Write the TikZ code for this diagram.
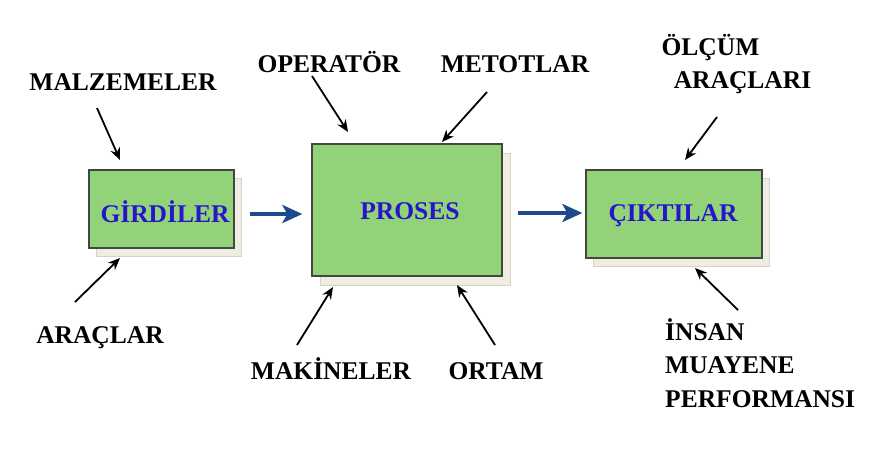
\documentclass[tikz,border=0pt]{standalone}
\usepackage{fontspec}
\setmainfont{Liberation Serif}
\usetikzlibrary{arrows.meta}
\definecolor{boxgreen}{RGB}{146,210,120}
\definecolor{boxedge}{RGB}{64,72,64}
\definecolor{shadowfill}{RGB}{239,236,226}
\definecolor{shadowedge}{RGB}{214,211,198}
\definecolor{boxtext}{RGB}{40,20,205}
\definecolor{flowblue}{RGB}{28,74,138}
\tikzset{
  lbl/.style={inner sep=0pt, font=\fontsize{25.5}{30}\selectfont\bfseries, text=black},
  stagebox/.style={draw=boxedge, line width=1.3pt, fill=boxgreen, inner sep=0pt,
    font=\fontsize{25.5}{30}\selectfont\bfseries, text=boxtext},
  shadowbox/.style={draw=shadowedge, line width=0.8pt, fill=shadowfill, inner sep=0pt},
  inarrow/.style={-{Stealth[length=12pt,width=10pt]}, line width=1.8pt, black},
  flowarrow/.style={-{Stealth[length=20pt,width=18pt,inset=5pt]}, line width=4.5pt, flowblue}
}
\begin{document}
\begin{tikzpicture}[x=1pt,y=-1pt]
\useasboundingbox (0,0) rectangle (891,448);
% shadows
\node[shadowbox, minimum width=145pt, minimum height=78pt] (gsh) at (169,217.5) {};
\node[shadowbox, minimum width=190pt, minimum height=132pt] (psh) at (415,219) {};
\node[shadowbox, minimum width=176pt, minimum height=88pt] (csh) at (681.5,222.5) {};
% boxes
\node[stagebox, minimum width=145pt, minimum height=78pt] (girdi) at (161.5,209) {};
\node[stagebox, minimum width=190pt, minimum height=132pt] (proses) at (407,210) {};
\node[stagebox, minimum width=176pt, minimum height=88pt] (cikti) at (674,214) {};
\node[stagebox, draw=none, fill=none, anchor=base] (girdiT) at (165,222) {GİRDİLER};
\node[stagebox, draw=none, fill=none, anchor=base] (prosesT) at (410,219) {PROSES};
\node[stagebox, draw=none, fill=none, anchor=base] (ciktiT) at (673,221) {ÇIKTILAR};
% labels
\node[lbl, anchor=base] (malz) at (123,90) {MALZEMELER};
\node[lbl, anchor=base] (oper) at (329,72) {OPERATÖR};
\node[lbl, anchor=base] (metot) at (515,72) {METOTLAR};
\node[lbl, anchor=base] (olcum) at (710.5,55) {ÖLÇÜM};
\node[lbl, anchor=base] (aracl) at (742.5,88) {ARAÇLARI};
\node[lbl, anchor=base] (arac) at (100,343) {ARAÇLAR};
\node[lbl, anchor=base] (makine) at (331,379) {MAKİNELER};
\node[lbl, anchor=base] (ortam) at (496,379) {ORTAM};
\node[lbl, anchor=base west] (insan) at (665,340) {İNSAN};
\node[lbl, anchor=base west] (muay) at (665,373) {MUAYENE};
\node[lbl, anchor=base west] (perf) at (665,407) {PERFORMANSI};
% arrow coordinates
\coordinate (malzS) at (97,108);   \coordinate (malzE) at (120,160);
\coordinate (operS) at (312,76);   \coordinate (operE) at (348,132);
\coordinate (metS) at (487,92);    \coordinate (metE) at (442,142);
\coordinate (olcS) at (717,117);   \coordinate (olcE) at (685,160);
\coordinate (aracS) at (75,302);   \coordinate (aracE) at (120,258);
\coordinate (makS) at (297,345);   \coordinate (makE) at (333,287);
\coordinate (ortS) at (495,345);   \coordinate (ortE) at (457,285);
\coordinate (insS) at (738,310);   \coordinate (insE) at (695,268);
\draw[inarrow] (malzS) -- (malzE);
\draw[inarrow] (operS) -- (operE);
\draw[inarrow] (metS) -- (metE);
\draw[inarrow] (olcS) -- (olcE);
\draw[inarrow] (aracS) -- (aracE);
\draw[inarrow] (makS) -- (makE);
\draw[inarrow] (ortS) -- (ortE);
\draw[inarrow] (insS) -- (insE);
% flow arrows
\draw[flowarrow] ([xshift=8pt,yshift=3.5pt]gsh.east) -- ([xshift=-9pt,yshift=-4pt]proses.west);
\draw[flowarrow] ([xshift=8pt,yshift=6pt]psh.east) -- ([xshift=-3pt,yshift=1pt]cikti.west);
\end{tikzpicture}
\end{document}
